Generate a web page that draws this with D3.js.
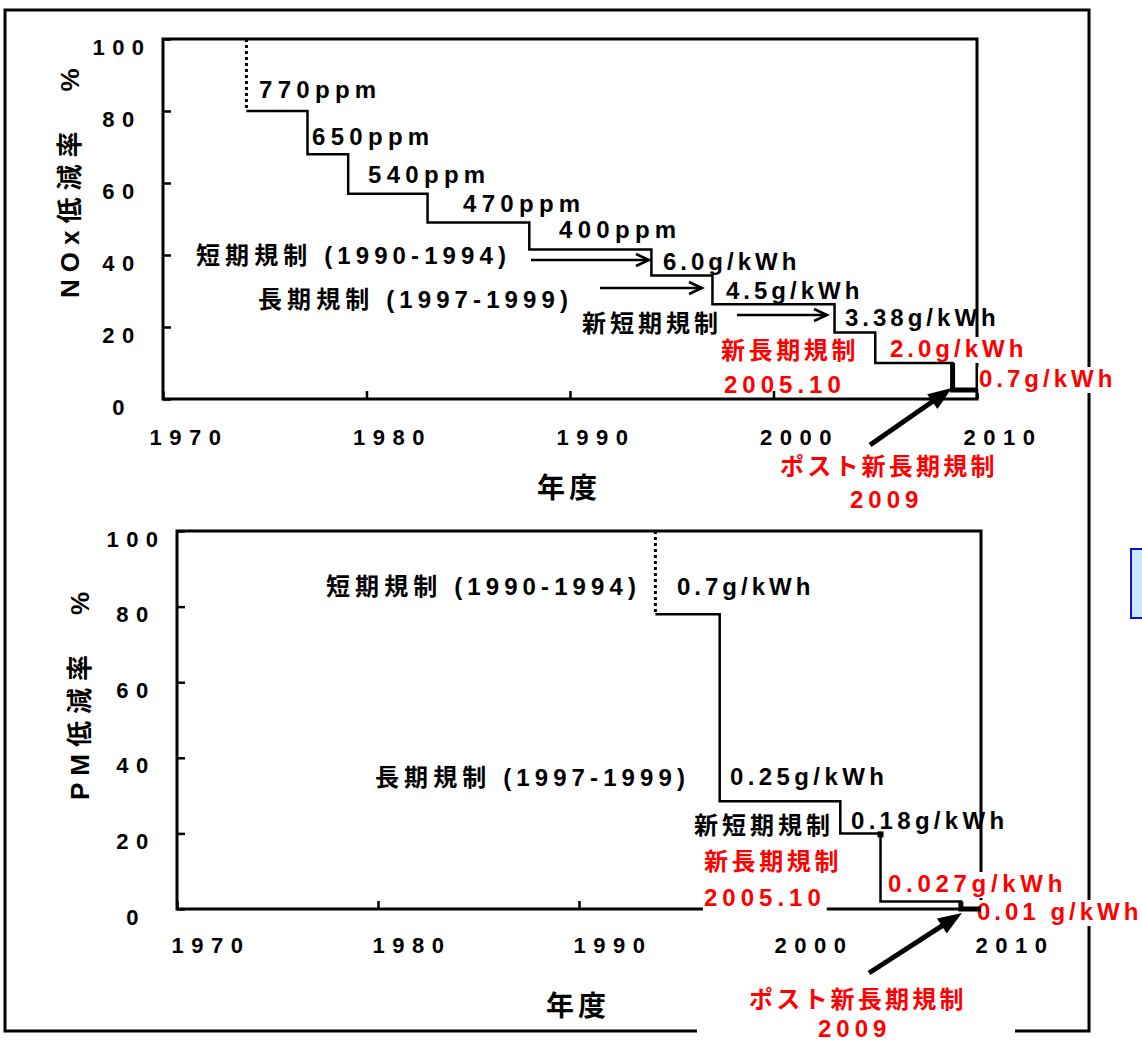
<!DOCTYPE html>
<html><head><meta charset="utf-8">
<script src="https://cdn.jsdelivr.net/npm/d3@7"></script>
<style>body{margin:0;background:#fff}svg{display:block}</style>
</head><body>
<svg id="c" width="1142" height="1043"></svg>
<script>
// ---------- data ----------
const yearTicks = [1970, 1980, 1990, 2000, 2010];
const pctTicks = [0, 20, 40, 60, 80, 100];

// NOx reduction steps (year the limit started, reduction %)
const noxYears  = [1974.1, 1977.1, 1979.1, 1983, 1988, 1994, 1997, 2003, 2005, 2008.8, 2010];
const noxValues = [80, 68, 57, 49, 41.5, 34.3, 26.3, 18.5, 10, 2.5, 0];
const noxLimits = ["770ppm", "650ppm", "540ppm", "470ppm", "400ppm", "6.0g/kWh", "4.5g/kWh", "3.38g/kWh", "2.0g/kWh", "0.7g/kWh"];

// PM reduction steps
const pmYears  = [1993.8, 1997, 2003, 2005, 2009, 2010];
const pmValues = [78, 28.5, 20, 2, 0, 0];
const pmLimits = ["0.7g/kWh", "0.25g/kWh", "0.18g/kWh", "0.027g/kWh", "0.01 g/kWh"];

const regNames = ["短期規制 (1990-1994)", "長期規制 (1997-1999)", "新短期規制", "新長期規制", "2005.10", "ポスト新長期規制", "2009"];
const xTitle = "年度";
const noxTitle = "NOx低減率　%";
const pmTitle = "PM低減率　%";

// ---------- layout ----------
const FONT = "'Liberation Sans', Arial, 'Noto Sans CJK JP', sans-serif";
const RED = "#ff0000";
const svg = d3.select("#c");

// [x, baseline, red?, letter-spacing]
const panels = [
  { key: "nox", left: 163, top: 39, right: 977, bottom: 399, tickDx: -14, tickY: 46,
    years: noxYears, values: noxValues, title: noxTitle, titlePos: [79, 298],
    xTitlePos: [537, 498],
    limitPos: [[259,98,0,5.3],[312,145,0,5.3],[368,183,0,5.3],[463,212,0,5.3],[559,238,0,5.3],[663,270,0,4],[726,299,0,4],[845,326,0,4],[890,357,1,4],[979,387,1,4]],
    regPos: [[196,264,0,0,5.1],[258,308,0,0,5.1],[582,332,0,0,4],[721,359,1,0,3.6],[724,393,1,0,5],[780,475,1,0,3.2],[850,508,1,0,5]],
    arrows: [[531,260,649,260],[600,288,702,288],[737,315,827,315]],
    bigArrow: [870,445,952,388],
    limits: noxLimits },
  { key: "pm", left: 177, top: 531, right: 981, bottom: 909, tickDx: -6, tickY: 44,
    years: pmYears, values: pmValues, title: pmTitle, titlePos: [89, 800],
    xTitlePos: [546, 1016],
    limitPos: [[677,595,0,4],[730,785,0,4.4],[851,829,0,4.3],[888,892,1,4.7],[977,920,1,4]],
    regPos: [[326,595,0,0,5.1],[375,786,0,0,5.1],[694,834,0,0,4],[704,870,1,0,3.6],[704,906,1,1,5],[749,1008,1,0,3.2],[818,1037,1,0,5]],
    arrows: [],
    bigArrow: [869,973,962,913],
    limits: pmLimits }
];

// outer frame
svg.append("rect").attr("x", 5).attr("y", 10).attr("width", 1084).attr("height", 1021)
  .attr("fill", "none").attr("stroke", "#000").attr("stroke-width", 3);
// text box of bottom "ポスト新長期規制 2009" covering outer frame
svg.append("rect").attr("x", 697).attr("y", 985).attr("width", 318).attr("height", 58).attr("fill", "#fff");
// partial blue box at right edge
svg.append("rect").attr("x", 1131).attr("y", 549).attr("width", 20).attr("height", 69)
  .attr("fill", "#cce8ff").attr("stroke", "#1010c8").attr("stroke-width", 2);

function label(g, str, x, y, o) {
  o = o || {};
  const t = g.append("text").attr("x", x).attr("y", y)
    .attr("font-family", FONT).attr("font-weight", "bold")
    .attr("font-size", o.size || 24).attr("letter-spacing", o.ls === undefined ? 4 : o.ls)
    .attr("fill", o.color || "#000").attr("text-anchor", o.anchor || "start").text(str);
  if (o.bg) {
    const b = t.node().getBBox();
    g.insert("rect", () => t.node()).attr("x", b.x - 1).attr("y", b.y + 2)
      .attr("width", b.width + 2).attr("height", b.height - 1).attr("fill", "#fff");
  }
  return t;
}

function arrowOpen(g, x1, y1, x2, y2) {
  const a = Math.atan2(y2 - y1, x2 - x1), L = 13, h = 6;
  const bx = x2 - L * Math.cos(a), by = y2 - L * Math.sin(a);
  const px = -Math.sin(a) * h, py = Math.cos(a) * h;
  g.append("line").attr("x1", x1).attr("y1", y1).attr("x2", x2).attr("y2", y2)
    .attr("stroke", "#000").attr("stroke-width", 2.5);
  g.append("path").attr("d", `M${bx+px},${by+py}L${x2},${y2}L${bx-px},${by-py}`)
    .attr("fill", "none").attr("stroke", "#000").attr("stroke-width", 2.5);
}
function arrowFilled(g, x1, y1, x2, y2) {
  const a = Math.atan2(y2 - y1, x2 - x1), L = 24, h = 9;
  const bx = x2 - L * Math.cos(a), by = y2 - L * Math.sin(a);
  const px = -Math.sin(a) * h, py = Math.cos(a) * h;
  g.append("line").attr("x1", x1).attr("y1", y1).attr("x2", bx + 2*Math.cos(a)).attr("y2", by + 2*Math.sin(a))
    .attr("stroke", "#000").attr("stroke-width", 5);
  g.append("path").attr("d", `M${bx+px},${by+py}L${x2},${y2}L${bx-px},${by-py}Z`).attr("fill", "#000");
}

panels.forEach(p => {
  const g = svg.append("g");
  const x = d3.scaleLinear().domain([1970, 2010]).range([p.left, p.right]);
  const y = d3.scaleLinear().domain([0, 100]).range([p.bottom, p.top]);

  // frame
  g.append("rect").attr("x", p.left).attr("y", p.top)
    .attr("width", p.right - p.left).attr("height", p.bottom - p.top)
    .attr("fill", "none").attr("stroke", "#000").attr("stroke-width", 3);

  // axes
  const ax = g.append("g").attr("transform", `translate(0,${p.bottom})`)
    .call(d3.axisBottom(x).tickValues(yearTicks).tickSizeInner(-8).tickSizeOuter(0).tickFormat(d3.format("d")));
  const ay = g.append("g").attr("transform", `translate(${p.left},0)`)
    .call(d3.axisLeft(y).tickValues(pctTicks).tickSizeInner(-8).tickSizeOuter(0));
  [ax, ay].forEach(a => {
    a.select(".domain").remove();
    a.selectAll(".tick line").attr("stroke", "#000").attr("stroke-width", 2.5);
    a.selectAll(".tick text").attr("font-family", FONT).attr("font-weight", "bold")
      .attr("font-size", 22).attr("letter-spacing", 7.5).attr("fill", "#000");
  });
  ax.selectAll(".tick text").attr("text-anchor", "start").attr("x", p.tickDx).attr("y", p.tickY).attr("dy", 0);
  ay.selectAll(".tick text").attr("text-anchor", "middle").attr("x", -41).attr("y", 15).attr("dy", 0);

  // axis titles
  label(g, p.title, 0, 0, { size: 26, ls: 7 })
    .attr("transform", `translate(${p.titlePos[0]},${p.titlePos[1]}) rotate(-90)`);
  label(g, xTitle, p.xTitlePos[0], p.xTitlePos[1], { size: 28, ls: 4 });

  // labels
  p.limits.forEach((s, i) => {
    const q = p.limitPos[i];
    label(g, s, q[0], q[1], { color: q[2] ? RED : "#000", bg: !!q[2], ls: q[3] });
  });
  regNames.forEach((s, i) => {
    const q = p.regPos[i];
    label(g, s, q[0], q[1], { color: q[2] ? RED : "#000", bg: !!q[3], ls: q[4] });
  });

  // step line
  const pts = p.years.map((yr, i) => [yr, p.values[i]]);
  const line = d3.line().x(d => x(d[0])).y(d => y(d[1])).curve(d3.curveStepAfter);
  g.append("path").attr("d", line(pts)).attr("fill", "none")
    .attr("stroke", "#000").attr("stroke-width", 2.5);
  // dotted start (from 100%)
  g.append("line").attr("x1", x(p.years[0])).attr("x2", x(p.years[0]))
    .attr("y1", y(100)).attr("y2", y(p.values[0]))
    .attr("stroke", "#000").attr("stroke-width", 3).attr("stroke-dasharray", "3,3");
  // thick final step
  const n = p.years.length;
  const thick = [[p.years[n - 2], p.values[n - 3]], [p.years[n - 2], p.values[n - 2]], [p.years[n - 1], p.values[n - 2]]];
  g.append("path").attr("d", d3.line().x(d => x(d[0])).y(d => y(d[1]))(thick))
    .attr("fill", "none").attr("stroke", "#000").attr("stroke-width", 5);

  if (p.key === "pm") {
    g.append("rect").attr("x", x(p.years[3]) - 3).attr("y", y(p.values[2]) - 2)
      .attr("width", 6).attr("height", 6).attr("fill", "#000");
  }

  p.arrows.forEach(a => arrowOpen(g, a[0], a[1], a[2], a[3]));
  arrowFilled(g, ...p.bigArrow);
});
</script>
</body></html>
